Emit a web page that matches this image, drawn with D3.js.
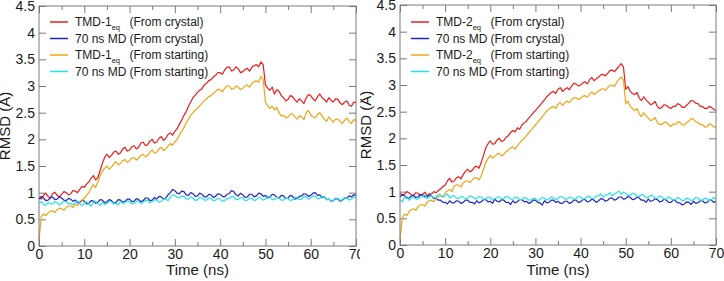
<!DOCTYPE html>
<html>
<head>
<meta charset="utf-8">
<script src="https://cdn.jsdelivr.net/npm/d3@7"></script>
<style>
  body { margin: 0; background: #fff; }
  svg { display: block; font-family: "Liberation Sans", Arial, Helvetica, sans-serif; }
</style>
</head>
<body>
<svg id="chart" width="724" height="281"></svg>
<script>
// time axis, ns (one sample every 0.5 ns)
const timeNs = d3.range(0, 70.5, 0.5);

const xTicks = [0, 10, 20, 30, 40, 50, 60, 70];
const xMinorTicks = [5, 15, 25, 35, 45, 55, 65];
const yTicks = [0, 0.5, 1, 1.5, 2, 2.5, 3, 3.5, 4, 4.5];
const yTickLabels = ['0', '0.5', '1', '1.5', '2', '2.5', '3', '3.5', '4', '4.5'];

// panel 1 (TMD-1)
const tmd1Crystal = [
  0.92, 0.88, 0.95, 0.99, 0.93, 0.90, 0.98, 1.01, 0.95, 0.92, 0.97, 1.02, 1.0, 0.96, 0.98, 1.04, 1.03, 1.0, 1.06, 1.12,
  1.1, 1.16, 1.2, 1.27, 1.32, 1.24, 1.28, 1.42, 1.55, 1.66, 1.72, 1.66, 1.7, 1.76, 1.78, 1.72, 1.75, 1.82, 1.85, 1.78,
  1.8, 1.86, 1.88, 1.82, 1.85, 1.93, 1.95, 1.88, 1.9, 1.97, 2.0, 1.93, 1.95, 2.02, 2.05, 1.98, 2.02, 2.09, 2.12, 2.08,
  2.15, 2.2, 2.28, 2.36, 2.45, 2.52, 2.62, 2.7, 2.78, 2.83, 2.88, 2.92, 2.95, 3.02, 3.05, 3.1, 3.12, 3.17, 3.2, 3.25,
  3.25, 3.22, 3.3, 3.35, 3.36, 3.28, 3.3, 3.36, 3.32, 3.25, 3.27, 3.31, 3.33, 3.28, 3.35, 3.38, 3.4, 3.36, 3.45, 3.4,
  3.02, 2.96, 2.92, 2.98, 2.85, 2.93, 2.9, 2.82, 2.78, 2.72, 2.75, 2.82, 2.8, 2.74, 2.7, 2.76, 2.72, 2.67, 2.78, 2.84,
  2.82, 2.76, 2.72, 2.8, 2.85, 2.78, 2.75, 2.7, 2.78, 2.73, 2.7, 2.76, 2.75, 2.68, 2.65, 2.7, 2.72, 2.64, 2.62, 2.7,
  2.68];
const md1Crystal = [
  0.88, 0.93, 0.9, 0.85, 0.86, 0.9, 0.92, 0.87, 0.88, 0.93, 0.9, 0.86, 0.85, 0.89, 0.88, 0.84, 0.86, 0.81, 0.82, 0.86,
  0.84, 0.79, 0.8, 0.85, 0.84, 0.8, 0.82, 0.87, 0.86, 0.81, 0.83, 0.87, 0.85, 0.8, 0.82, 0.87, 0.86, 0.82, 0.84, 0.88,
  0.88, 0.83, 0.84, 0.89, 0.87, 0.83, 0.85, 0.9, 0.9, 0.85, 0.86, 0.91, 0.88, 0.93, 0.92, 0.88, 0.9, 0.96, 1.0, 1.06,
  1.04, 0.99, 0.98, 1.03, 1.02, 0.96, 0.95, 1.0, 0.98, 0.93, 0.94, 0.99, 0.97, 0.92, 0.92, 0.97, 0.96, 0.91, 0.93, 0.98,
  0.97, 0.93, 0.92, 0.97, 0.98, 1.04, 1.02, 0.96, 0.94, 0.99, 0.96, 0.91, 0.92, 0.97, 0.97, 0.92, 0.94, 0.99, 0.98, 0.93,
  0.95, 0.9, 0.92, 0.97, 0.96, 0.91, 0.9, 0.95, 0.94, 0.89, 0.9, 0.95, 0.93, 0.88, 0.89, 0.93, 0.94, 0.98, 0.97, 0.93,
  0.95, 0.99, 1.0, 0.95, 0.96, 0.91, 0.92, 0.87, 0.88, 0.84, 0.85, 0.89, 0.88, 0.84, 0.86, 0.9, 0.9, 0.94, 0.92, 0.96,
  0.95];
const tmd1Starting = [
  0.1, 0.55, 0.6, 0.57, 0.62, 0.65, 0.66, 0.63, 0.68, 0.71, 0.7, 0.67, 0.72, 0.75, 0.75, 0.72, 0.78, 0.76, 0.8, 0.85,
  0.9, 0.95, 1.0, 1.08, 1.15, 1.1, 1.2, 1.32, 1.4, 1.46, 1.5, 1.44, 1.48, 1.54, 1.58, 1.52, 1.55, 1.6, 1.62, 1.57,
  1.6, 1.65, 1.66, 1.61, 1.65, 1.7, 1.72, 1.67, 1.7, 1.76, 1.8, 1.74, 1.76, 1.82, 1.85, 1.79, 1.82, 1.88, 1.92, 1.89,
  1.95, 2.0, 2.08, 2.15, 2.22, 2.3, 2.38, 2.45, 2.5, 2.55, 2.58, 2.63, 2.68, 2.72, 2.76, 2.8, 2.82, 2.86, 2.9, 2.94,
  2.93, 2.89, 2.96, 3.0, 3.0, 2.94, 2.95, 3.0, 2.98, 2.93, 2.96, 3.0, 3.02, 2.98, 3.05, 3.08, 3.1, 3.07, 3.18, 3.12,
  2.7, 2.63, 2.58, 2.62, 2.55, 2.6, 2.5, 2.44, 2.45, 2.4, 2.42, 2.47, 2.48, 2.42, 2.38, 2.44, 2.42, 2.37, 2.5, 2.54,
  2.46, 2.42, 2.4, 2.47, 2.5, 2.44, 2.38, 2.34, 2.42, 2.37, 2.32, 2.38, 2.38, 2.33, 2.3, 2.36, 2.4, 2.33, 2.3, 2.37,
  2.35];
const md1Starting = [
  0.8, 0.83, 0.78, 0.76, 0.82, 0.79, 0.79, 0.83, 0.81, 0.77, 0.8, 0.84, 0.83, 0.79, 0.8, 0.77, 0.82, 0.85, 0.79, 0.76,
  0.8, 0.83, 0.78, 0.75, 0.81, 0.84, 0.79, 0.76, 0.82, 0.78, 0.8, 0.84, 0.83, 0.79, 0.8, 0.77, 0.84, 0.8, 0.81, 0.85,
  0.83, 0.79, 0.8, 0.84, 0.84, 0.8, 0.82, 0.86, 0.85, 0.81, 0.83, 0.87, 0.86, 0.82, 0.84, 0.88, 0.88, 0.85, 0.92, 0.96,
  0.95, 0.91, 0.9, 0.94, 0.93, 0.88, 0.88, 0.92, 0.9, 0.85, 0.87, 0.91, 0.9, 0.86, 0.86, 0.9, 0.89, 0.85, 0.86, 0.9,
  0.88, 0.84, 0.85, 0.89, 0.89, 0.93, 0.92, 0.87, 0.87, 0.91, 0.9, 0.85, 0.86, 0.9, 0.89, 0.85, 0.87, 0.91, 0.9, 0.86,
  0.88, 0.93, 0.92, 0.87, 0.87, 0.91, 0.9, 0.86, 0.86, 0.9, 0.89, 0.85, 0.87, 0.91, 0.91, 0.87, 0.88, 0.93, 0.92, 0.88,
  0.9, 0.94, 0.93, 0.89, 0.89, 0.93, 0.92, 0.87, 0.88, 0.84, 0.86, 0.9, 0.89, 0.85, 0.87, 0.91, 0.9, 0.86, 0.88, 0.92,
  0.9];

// panel 2 (TMD-2)
const tmd2Crystal = [
  0.97, 0.93, 0.95, 1.0, 0.98, 0.94, 0.93, 0.98, 0.97, 0.93, 0.95, 0.99, 0.92, 0.96, 0.96, 1.0, 0.98, 1.02, 1.05, 1.1,
  1.12, 1.2, 1.25, 1.18, 1.2, 1.26, 1.28, 1.24, 1.32, 1.38, 1.42, 1.37, 1.4, 1.46, 1.48, 1.44, 1.55, 1.68, 1.82, 1.9,
  1.95, 1.89, 1.9, 1.97, 2.0, 1.94, 1.96, 2.02, 2.05, 2.11, 2.15, 2.12, 2.2, 2.17, 2.25, 2.29, 2.32, 2.38, 2.42, 2.48,
  2.52, 2.57, 2.62, 2.67, 2.72, 2.78, 2.82, 2.86, 2.88, 2.84, 2.92, 2.95, 2.88, 2.92, 2.95, 2.91, 2.98, 3.03, 3.02, 2.98,
  3.0, 3.04, 3.06, 3.02, 3.1, 3.14, 3.08, 3.12, 3.15, 3.19, 3.2, 3.17, 3.22, 3.27, 3.28, 3.25, 3.3, 3.35, 3.4, 3.34,
  2.92, 2.97, 2.88, 2.84, 2.82, 2.86, 2.75, 2.71, 2.78, 2.72, 2.68, 2.63, 2.65, 2.69, 2.6, 2.56, 2.58, 2.63, 2.62, 2.58,
  2.56, 2.6, 2.6, 2.65, 2.63, 2.58, 2.58, 2.62, 2.66, 2.71, 2.7, 2.66, 2.65, 2.6, 2.6, 2.56, 2.56, 2.6, 2.58, 2.54,
  2.52];
const md2Crystal = [
  0.9, 0.95, 0.92, 0.88, 0.88, 0.92, 0.93, 0.89, 0.9, 0.95, 0.94, 0.9, 0.9, 0.94, 0.92, 0.87, 0.88, 0.84, 0.84, 0.8,
  0.8, 0.77, 0.83, 0.79, 0.79, 0.83, 0.82, 0.78, 0.8, 0.84, 0.84, 0.8, 0.8, 0.77, 0.83, 0.79, 0.81, 0.85, 0.85, 0.81,
  0.82, 0.78, 0.86, 0.82, 0.81, 0.85, 0.84, 0.8, 0.8, 0.76, 0.83, 0.79, 0.81, 0.85, 0.85, 0.81, 0.82, 0.78, 0.8, 0.84,
  0.84, 0.8, 0.79, 0.75, 0.83, 0.79, 0.8, 0.84, 0.84, 0.8, 0.82, 0.78, 0.78, 0.82, 0.82, 0.78, 0.8, 0.84, 0.84, 0.8,
  0.81, 0.85, 0.85, 0.81, 0.82, 0.86, 0.84, 0.8, 0.83, 0.87, 0.86, 0.82, 0.84, 0.88, 0.88, 0.84, 0.86, 0.9, 0.9, 0.86,
  0.87, 0.91, 0.89, 0.85, 0.86, 0.9, 0.88, 0.84, 0.84, 0.8, 0.86, 0.82, 0.83, 0.87, 0.85, 0.81, 0.82, 0.86, 0.84, 0.8,
  0.8, 0.84, 0.83, 0.79, 0.79, 0.75, 0.77, 0.81, 0.8, 0.76, 0.82, 0.78, 0.79, 0.83, 0.83, 0.79, 0.8, 0.84, 0.84, 0.8,
  0.82];
const tmd2Starting = [
  0.1, 0.5, 0.58, 0.55, 0.62, 0.66, 0.68, 0.65, 0.72, 0.75, 0.76, 0.73, 0.8, 0.83, 0.84, 0.81, 0.88, 0.91, 0.92, 0.9,
  0.98, 1.02, 1.04, 1.0, 1.1, 1.13, 1.12, 1.09, 1.16, 1.2, 1.2, 1.17, 1.22, 1.26, 1.26, 1.22, 1.3, 1.42, 1.55, 1.62,
  1.68, 1.63, 1.66, 1.71, 1.72, 1.67, 1.7, 1.75, 1.78, 1.82, 1.84, 1.8, 1.86, 1.91, 1.96, 2.0, 2.05, 2.1, 2.15, 2.2,
  2.25, 2.3, 2.35, 2.4, 2.46, 2.51, 2.55, 2.58, 2.6, 2.56, 2.64, 2.67, 2.62, 2.66, 2.7, 2.67, 2.72, 2.76, 2.76, 2.73,
  2.75, 2.79, 2.8, 2.77, 2.83, 2.87, 2.82, 2.86, 2.88, 2.92, 2.93, 2.9, 2.95, 2.99, 3.0, 2.97, 3.05, 3.1, 3.15, 3.09,
  2.65, 2.7, 2.6, 2.56, 2.52, 2.56, 2.45, 2.41, 2.48, 2.42, 2.38, 2.33, 2.35, 2.39, 2.3, 2.26, 2.26, 2.3, 2.3, 2.25,
  2.22, 2.27, 2.26, 2.31, 2.3, 2.25, 2.25, 2.3, 2.32, 2.37, 2.36, 2.31, 2.3, 2.26, 2.26, 2.21, 2.22, 2.27, 2.26, 2.21,
  2.22];
const md2Starting = [
  0.85, 0.81, 0.88, 0.92, 0.84, 0.88, 0.9, 0.86, 0.86, 0.9, 0.9, 0.94, 0.87, 0.91, 0.92, 0.88, 0.9, 0.95, 0.94, 0.9,
  0.92, 0.96, 0.88, 0.92, 0.92, 0.88, 0.87, 0.91, 0.9, 0.86, 0.88, 0.92, 0.91, 0.87, 0.87, 0.91, 0.9, 0.86, 0.86, 0.9,
  0.89, 0.85, 0.86, 0.9, 0.9, 0.86, 0.87, 0.91, 0.9, 0.86, 0.86, 0.9, 0.89, 0.85, 0.85, 0.89, 0.88, 0.84, 0.84, 0.88,
  0.87, 0.83, 0.85, 0.89, 0.88, 0.84, 0.86, 0.9, 0.89, 0.85, 0.87, 0.91, 0.9, 0.86, 0.86, 0.9, 0.89, 0.85, 0.87, 0.91,
  0.9, 0.86, 0.87, 0.91, 0.91, 0.87, 0.88, 0.92, 0.92, 0.96, 0.9, 0.94, 0.94, 0.98, 0.92, 0.96, 0.98, 1.01, 0.95, 0.99,
  0.97, 0.93, 0.93, 0.97, 0.96, 0.92, 0.91, 0.95, 0.93, 0.89, 0.89, 0.93, 0.92, 0.88, 0.88, 0.92, 0.9, 0.86, 0.86, 0.9,
  0.88, 0.84, 0.85, 0.89, 0.87, 0.83, 0.84, 0.88, 0.87, 0.83, 0.85, 0.89, 0.88, 0.84, 0.84, 0.88, 0.87, 0.83, 0.85, 0.89,
  0.86];

const colors = { red: '#ec1c1c', blue: '#2323c4', orange: '#efa416', cyan: '#25e2ea' };

const panels = [
  {
    left: 39, right: 356, top: 6, bottom: 246, clipX: 0, clipWidth: 360, labelX: 9.5,
    tmd: 'TMD-1',
    series: [
      { values: tmd1Crystal, color: colors.red, name: 'TMD', from: '(From crystal)' },
      { values: md1Crystal, color: colors.blue, name: '70 ns MD', from: '(From crystal)' },
      { values: tmd1Starting, color: colors.orange, name: 'TMD', from: '(From starting)' },
      { values: md1Starting, color: colors.cyan, name: '70 ns MD', from: '(From starting)' }
    ]
  },
  {
    left: 400, right: 716, top: 5, bottom: 245, clipX: 360, clipWidth: 364, labelX: 370.5,
    tmd: 'TMD-2',
    series: [
      { values: tmd2Crystal, color: colors.red, name: 'TMD', from: '(From crystal)' },
      { values: md2Crystal, color: colors.blue, name: '70 ns MD', from: '(From crystal)' },
      { values: tmd2Starting, color: colors.orange, name: 'TMD', from: '(From starting)' },
      { values: md2Starting, color: colors.cyan, name: '70 ns MD', from: '(From starting)' }
    ]
  }
];

const svg = d3.select('#chart');
const frameColor = '#7a7a7a';
const textColor = '#1a1a1a';

panels.forEach((p, i) => {
  svg.append('clipPath').attr('id', 'panel-clip-' + i)
    .append('rect').attr('x', p.clipX).attr('y', 0)
    .attr('width', p.clipWidth).attr('height', 281);

  const g = svg.append('g').attr('clip-path', `url(#panel-clip-${i})`);

  const x = d3.scaleLinear().domain([0, 70]).range([p.left, p.right]);
  const y = d3.scaleLinear().domain([0, 4.5]).range([p.bottom, p.top]);

  const styleAxis = a => a
    .call(a => a.select('.domain').remove())
    .call(a => a.selectAll('.tick line').attr('stroke', frameColor))
    .call(a => a.selectAll('.tick text').attr('fill', textColor).style('font-size', '14px'));

  // bottom, with labels
  g.append('g')
    .attr('transform', `translate(0,${p.bottom})`)
    .call(d3.axisBottom(x).tickValues(xTicks).tickSize(-7).tickPadding(3).tickFormat(d3.format('d')))
    .call(styleAxis);
  g.append('g')
    .attr('transform', `translate(0,${p.bottom})`)
    .call(d3.axisBottom(x).tickValues(xMinorTicks).tickSize(-4).tickFormat(''))
    .call(styleAxis);
  // top mirror
  g.append('g')
    .attr('transform', `translate(0,${p.top})`)
    .call(d3.axisTop(x).tickValues(xTicks).tickSize(-7).tickFormat(''))
    .call(styleAxis);
  g.append('g')
    .attr('transform', `translate(0,${p.top})`)
    .call(d3.axisTop(x).tickValues(xMinorTicks).tickSize(-4).tickFormat(''))
    .call(styleAxis);

  // left, with labels
  g.append('g')
    .attr('transform', `translate(${p.left},0)`)
    .call(d3.axisLeft(y).tickValues(yTicks).tickSize(-7).tickPadding(4)
      .tickFormat((d, k) => yTickLabels[k]))
    .call(styleAxis);
  // right mirror
  g.append('g')
    .attr('transform', `translate(${p.right},0)`)
    .call(d3.axisRight(y).tickValues(yTicks).tickSize(-7).tickFormat(''))
    .call(styleAxis);

  const line = d3.line()
    .x((d, k) => x(timeNs[k]))
    .y(d => y(d));

  p.series.forEach(s => {
    g.append('path')
      .datum(s.values)
      .attr('fill', 'none')
      .attr('stroke', s.color)
      .attr('stroke-width', 1.2)
      .attr('stroke-linejoin', 'round')
      .attr('d', line);
  });

  g.append('rect')
    .attr('x', p.left).attr('y', p.top)
    .attr('width', p.right - p.left).attr('height', p.bottom - p.top)
    .attr('fill', 'none').attr('stroke', frameColor).attr('stroke-width', 1);

  // legend
  const lg = g.append('g').attr('transform', `translate(${p.left},0)`);
  p.series.forEach((s, k) => {
    const cy = 22 + k * 16.5;
    lg.append('line')
      .attr('x1', 11).attr('x2', 29).attr('y1', cy).attr('y2', cy)
      .attr('stroke', s.color).attr('stroke-width', 1.5);
    const t = lg.append('text')
      .attr('x', 36).attr('y', cy + 4.3)
      .attr('fill', textColor).style('font-size', '12px');
    if (s.name === 'TMD') {
      t.append('tspan').text(p.tmd);
      t.append('tspan').attr('dy', 4).style('font-size', '7.5px').text('eq');
    } else {
      t.text(s.name);
    }
    lg.append('text')
      .attr('x', 90.5).attr('y', cy + 4.3)
      .attr('fill', textColor).style('font-size', '12px')
      .text(s.from);
  });

  // axis titles
  g.append('text')
    .attr('x', (p.left + p.right) / 2).attr('y', 275)
    .attr('text-anchor', 'middle').attr('fill', textColor).style('font-size', '15px')
    .text('Time (ns)');
  g.append('text')
    .attr('transform', `translate(${p.labelX},${(p.top + p.bottom) / 2}) rotate(-90)`)
    .attr('text-anchor', 'middle').attr('fill', textColor).style('font-size', '15px')
    .text('RMSD (Å)');
});
</script>
</body>
</html>
